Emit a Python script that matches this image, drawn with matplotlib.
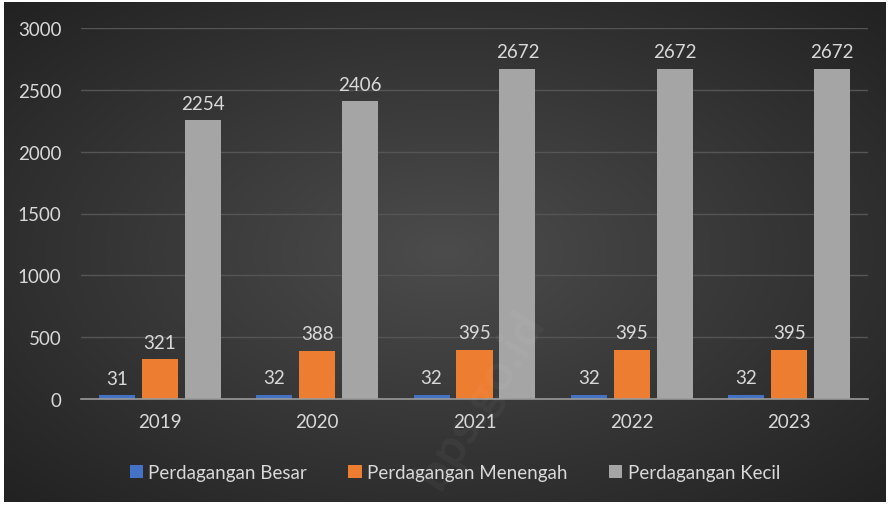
import numpy as np
import matplotlib.pyplot as plt

# --- Data ---
years = ["2019", "2020", "2021", "2022", "2023"]
besar = [31, 32, 32, 32, 32]
menengah = [321, 388, 395, 395, 395]
kecil = [2254, 2406, 2672, 2672, 2672]
series_names = ["Perdagangan Besar", "Perdagangan Menengah", "Perdagangan Kecil"]
colors = ["#4472C4", "#ED7D31", "#A5A5A5"]

plt.rcParams['font.family'] = ['Lato', 'DejaVu Sans']
txt = "#d9d9d9"

fig = plt.figure(figsize=(8.9, 5.06), dpi=100)
fig.patch.set_facecolor("white")

# --- Dark radial background (lighter in the middle) ---
bg = fig.add_axes([4/890, 3/506, 882/890, 500/506])
yy, xx = np.mgrid[-1:1:300j, -1:1:500j]
r = np.clip(np.sqrt(xx ** 2 + yy ** 2) / 1.41, 0, 1)
g = (0x4c + (0x22 - 0x4c) * r) / 255.0
bg.imshow(np.dstack([g, g, g]), aspect="auto", extent=[0, 1, 0, 1])
bg.set_axis_off()

ax = fig.add_axes([81/890, 1 - 400/506, 787/890, 371/506])
ax.patch.set_alpha(0)

x = np.arange(len(years))
w = 0.229
step = 0.273
for i, (vals, c) in enumerate(zip([besar, menengah, kecil], colors)):
    pos = x + (i - 1) * step
    bars = ax.bar(pos, vals, width=w, color=c, label=series_names[i], zorder=3)
    for b, v in zip(bars, vals):
        ax.text(b.get_x() + b.get_width() / 2, v + 70, str(v), ha="center",
                va="bottom", color=txt, fontsize=13.5, zorder=4)

ax.set_xlim(-0.5, len(years) - 0.5)
ax.set_ylim(0, 3000)
ax.set_yticks(range(0, 3001, 500))
ax.set_xticks(x)
ax.set_xticklabels(years)
ax.yaxis.grid(True, color="#555555", lw=1, zorder=0)
ax.tick_params(axis="both", length=0, colors=txt, labelsize=13.5)
ax.tick_params(axis="y", pad=14)
ax.tick_params(axis="x", pad=10)
for s in ["top", "right", "left"]:
    ax.spines[s].set_visible(False)
ax.spines["bottom"].set_color("#9a9a9a")
ax.spines["bottom"].set_linewidth(1.2)
ax.spines["bottom"].set_zorder(5)

leg = ax.legend(loc="upper center", bbox_to_anchor=(0.475, -0.13), ncol=3,
                frameon=False, fontsize=13.5, handlelength=0.7,
                handleheight=0.7, handletextpad=0.3, columnspacing=2.2)
for t in leg.get_texts():
    t.set_color(txt)

# faint watermark
fig.text(0.54, 0.21, "bps.go.id", rotation=58, fontsize=36, color="white",
         alpha=0.04, ha="center", va="center", fontweight="bold")

fig.savefig("out.png", dpi=100, facecolor=fig.get_facecolor())
